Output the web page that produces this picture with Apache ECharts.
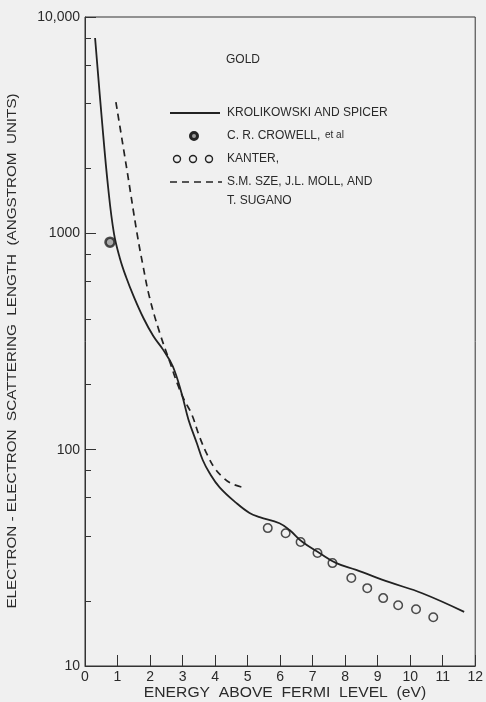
<!DOCTYPE html>
<html><head><meta charset="utf-8">
<script src="https://cdn.jsdelivr.net/npm/echarts@6/dist/echarts.min.js"></script>
<style>html,body{margin:0;padding:0;background:#f0f0f0}#c{width:486px;height:702px}</style>
</head><body><div id="c"></div>
<script>
// ---- data ----
const xTickValues = [0,1,2,3,4,5,6,7,8,9,10,11,12];
const yTickLabels = {10:'10', 100:'100', 1000:'1000', 10000:'10,000'};
const yMinorTicks = [20,40,60,80,200,400,600,800,2000,4000,6000,8000];

const krolX = [0.31,0.52,0.71,0.89,1.07,1.26,1.50,1.80,2.10,2.40,2.70,2.98,3.18,3.44,3.62,3.83,4.14,4.66,5.06,5.37,5.98,6.29,6.69,7.21,7.73,8.34,9.36,10.37,11.66];
const krolY = [8000,3340,1637,1000,770,630,510,405,335,290,243,180,138,107,89.6,78,67,56.6,51,48.8,45.7,42.5,37.4,33.3,29.9,27.8,24.4,21.7,17.8];

const szeX = [0.95,1.29,1.60,1.78,1.99,2.30,2.61,2.85,3.05,3.28,3.53,3.77,3.99,4.22,4.48,4.85];
const szeY = [4046,1963,1000,713,502,346,254,200,170,146,114,94,82,75,70,67];

const crowellX = [0.77];
const crowellY = [910];

const kanterX = [5.62,6.17,6.63,7.15,7.61,8.19,8.68,9.17,9.63,10.18,10.71];
const kanterY = [43.4,41.1,37.4,33.3,29.9,25.5,22.9,20.6,19.1,18.3,16.8];

const legendNames = ['KROLIKOWSKI AND SPICER','C. R. CROWELL,','et al','KANTER,','S.M. SZE, J.L. MOLL, AND','T. SUGANO'];
const titleText = 'GOLD';
const xName = 'ENERGY  ABOVE  FERMI  LEVEL  (eV)';
const yName = 'ELECTRON - ELECTRON  SCATTERING  LENGTH  (ANGSTROM  UNITS)';

// ---- chart ----
const zip = (a, b) => a.map((v, i) => [v, b[i]]);
const ink = '#222';
const txt = '#2a2a2a';
const FONT = '"Liberation Sans", Arial, sans-serif';

const chart = echarts.init(document.getElementById('c'), null, {renderer: 'canvas'});
chart.setOption({
  backgroundColor: '#f0f0f0',
  animation: false,
  textStyle: {fontFamily: FONT},
  grid: {left: 85, right: 10, top: 17, bottom: 36, show: true, borderColor: '#333', borderWidth: 1, backgroundColor: 'transparent'},
  xAxis: {
    type: 'value', min: 0, max: 12, interval: 1,
    axisLine: {show: true, lineStyle: {color: '#333', width: 1}},
    axisTick: {show: true, inside: true, length: 11, lineStyle: {color: '#333'}},
    axisLabel: {color: txt, fontSize: 14, margin: 4, fontFamily: FONT,
      formatter: v => xTickValues.indexOf(v) >= 0 ? String(v) : ''},
    splitLine: {show: false}
  },
  yAxis: [{
    type: 'log', logBase: 10, min: 10, max: 10000, position: 'left',
    axisLine: {show: true, lineStyle: {color: '#333', width: 1}},
    axisTick: {show: true, inside: true, length: 11, lineStyle: {color: '#333'}},
    axisLabel: {color: txt, fontSize: 14, margin: 5, fontFamily: FONT,
      formatter: v => yTickLabels[Math.round(v)] || ''},
    splitLine: {show: false}
  }, {
    type: 'log', logBase: 10, min: 10, max: 10000, position: 'left', offset: 0,
    axisLine: {show: false},
    axisTick: {show: true, inside: true, length: 6, customValues: yMinorTicks, lineStyle: {color: '#333'}},
    axisLabel: {show: false},
    splitLine: {show: false}
  }],
  series: [{
    name: legendNames[0], type: 'line', data: zip(krolX, krolY), symbol: 'none', smooth: 0.4,
    lineStyle: {color: ink, width: 1.8}
  }, {
    name: legendNames[4], type: 'line', data: zip(szeX, szeY), symbol: 'none', smooth: 0.4,
    lineStyle: {color: ink, width: 1.7, type: [7, 5]}
  }, {
    name: legendNames[1], type: 'scatter', data: zip(crowellX, crowellY), symbol: 'circle', symbolSize: 9,
    itemStyle: {color: '#999', borderColor: ink, borderWidth: 2.6}
  }, {
    name: legendNames[3], type: 'scatter', data: zip(kanterX, kanterY), symbol: 'circle', symbolSize: 8.5,
    itemStyle: {color: 'transparent', borderColor: ink, borderWidth: 1.5}
  }],
  graphic: [
    {type: 'text', x: 226, y: 60, style: {text: titleText, font: '12px ' + FONT, fill: txt, textVerticalAlign: 'middle'}},
    // legend
    {type: 'line', shape: {x1: 170, y1: 113, x2: 220, y2: 113}, style: {stroke: ink, lineWidth: 1.8}},
    {type: 'text', x: 227, y: 113, style: {text: legendNames[0], font: '12px ' + FONT, fill: txt, textVerticalAlign: 'middle'}},
    {type: 'circle', shape: {cx: 194, cy: 136, r: 3.5}, style: {fill: '#999', stroke: ink, lineWidth: 3}},
    {type: 'text', x: 227, y: 136, style: {text: legendNames[1], font: '12px ' + FONT, fill: txt, textVerticalAlign: 'middle'}},
    {type: 'text', x: 325, y: 135, style: {text: legendNames[2], font: '10px ' + FONT, fill: txt, textVerticalAlign: 'middle'}},
    {type: 'circle', shape: {cx: 177, cy: 159, r: 3.5}, style: {fill: 'none', stroke: ink, lineWidth: 1.4}},
    {type: 'circle', shape: {cx: 193, cy: 159, r: 3.5}, style: {fill: 'none', stroke: ink, lineWidth: 1.4}},
    {type: 'circle', shape: {cx: 209, cy: 159, r: 3.5}, style: {fill: 'none', stroke: ink, lineWidth: 1.4}},
    {type: 'text', x: 227, y: 159, style: {text: legendNames[3], font: '12px ' + FONT, fill: txt, textVerticalAlign: 'middle'}},
    {type: 'line', shape: {x1: 170, y1: 182, x2: 222, y2: 182}, style: {stroke: ink, lineWidth: 1.7, lineDash: [7, 5]}},
    {type: 'text', x: 227, y: 182, style: {text: legendNames[4], font: '12px ' + FONT, fill: txt, textVerticalAlign: 'middle'}},
    {type: 'text', x: 227, y: 201, style: {text: legendNames[5], font: '12px ' + FONT, fill: txt, textVerticalAlign: 'middle'}},
    // axis names
    {type: 'text', x: 285, y: 693, scaleX: 1.12, style: {text: xName, font: '14px ' + FONT, fill: txt, textAlign: 'center', textVerticalAlign: 'middle'}},
    {type: 'text', x: 12, y: 351, rotation: Math.PI / 2, scaleX: 1.17, style: {text: yName, font: '13px ' + FONT, fill: txt, textAlign: 'center', textVerticalAlign: 'middle'}}
  ]
});
</script>
</body></html>
